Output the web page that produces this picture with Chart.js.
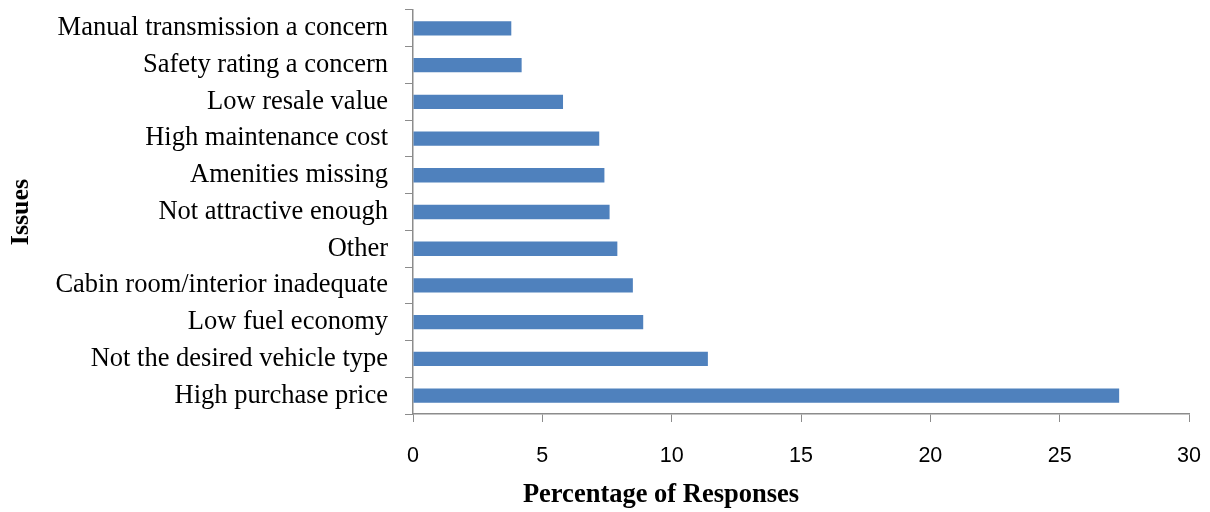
<!DOCTYPE html>
<html>
<head>
<meta charset="utf-8">
<script src="https://cdn.jsdelivr.net/npm/chart.js@4/dist/chart.umd.min.js"></script>
<style>
  html, body { margin: 0; padding: 0; background: #fff; }
  #wrap { width: 1210px; height: 512px; }
</style>
</head>
<body>
<div id="wrap"><canvas id="issuesChart" width="1210" height="512"></canvas></div>
<script>
// issues, listed top to bottom as in the chart
const issues = [
    'Manual transmission a concern',
    'Safety rating a concern',
    'Low resale value',
    'High maintenance cost',
    'Amenities missing',
    'Not attractive enough',
    'Other',
    'Cabin room/interior inadequate',
    'Low fuel economy',
    'Not the desired vehicle type',
    'High purchase price'
];
const responsePct = [3.8, 4.2, 5.8, 7.2, 7.4, 7.6, 7.9, 8.5, 8.9, 11.4, 27.3];
const xTicks = [0, 5, 10, 15, 20, 25, 30];
const xTitle = 'Percentage of Responses';

const axisGray = '#8c8c8c';

// the x title in the original sits left of the plot centre, so draw it ourselves
const xTitlePlugin = {
    id: 'xTitle',
    afterDraw: function (chart) {
        const c = chart.ctx;
        const area = chart.chartArea;
        c.save();
        c.font = 'bold 26.5px "Liberation Serif"';
        c.fillStyle = '#000';
        c.textAlign = 'center';
        c.textBaseline = 'middle';
        c.fillText(xTitle, area.left + 248, chart.height - 17);
        c.restore();
    }
};

const ctx = document.getElementById('issuesChart').getContext('2d');
new Chart(ctx, {
    type: 'bar',
    data: {
        labels: issues,
        datasets: [{
            label: xTitle,
            data: responsePct,
            backgroundColor: '#4f81bd',
            borderWidth: 0,
            categoryPercentage: 1,
            barPercentage: 0.39
        }]
    },
    options: {
        indexAxis: 'y',
        responsive: false,
        animation: false,
        layout: { padding: { top: 10, right: 21, left: 0, bottom: 4 } },
        plugins: {
            legend: { display: false },
            tooltip: { enabled: false }
        },
        scales: {
            x: {
                min: 0,
                max: 30,
                afterBuildTicks: function (axis) {
                    axis.ticks = xTicks.map(v => ({ value: v }));
                },
                afterFit: function (axis) {
                    axis.height = 94;
                    axis.paddingLeft = 0;
                    axis.paddingRight = 0;
                },
                grid: {
                    drawOnChartArea: false,
                    drawTicks: true,
                    tickLength: 8,
                    color: axisGray
                },
                border: { display: true, color: axisGray, width: 1.5 },
                ticks: {
                    color: '#000',
                    padding: 21,
                    font: { family: 'Liberation Sans', size: 21.5 }
                },
                title: { display: false }
            },
            y: {
                afterFit: function (axis) {
                    axis.width = 413;
                    axis.paddingTop = 0;
                    axis.paddingBottom = 0;
                },
                grid: {
                    drawOnChartArea: false,
                    drawTicks: true,
                    tickLength: 8,
                    offset: true,
                    color: axisGray
                },
                border: { display: true, color: axisGray, width: 1.5 },
                ticks: {
                    color: '#000',
                    padding: 17,
                    autoSkip: false,
                    font: { family: 'Liberation Serif', size: 26.5 }
                },
                title: {
                    display: true,
                    text: 'Issues',
                    color: '#000',
                    padding: { top: 6, bottom: 0 },
                    font: { family: 'Liberation Serif', size: 26, weight: 'bold' }
                }
            }
        }
    },
    plugins: [xTitlePlugin]
});
</script>
</body>
</html>
